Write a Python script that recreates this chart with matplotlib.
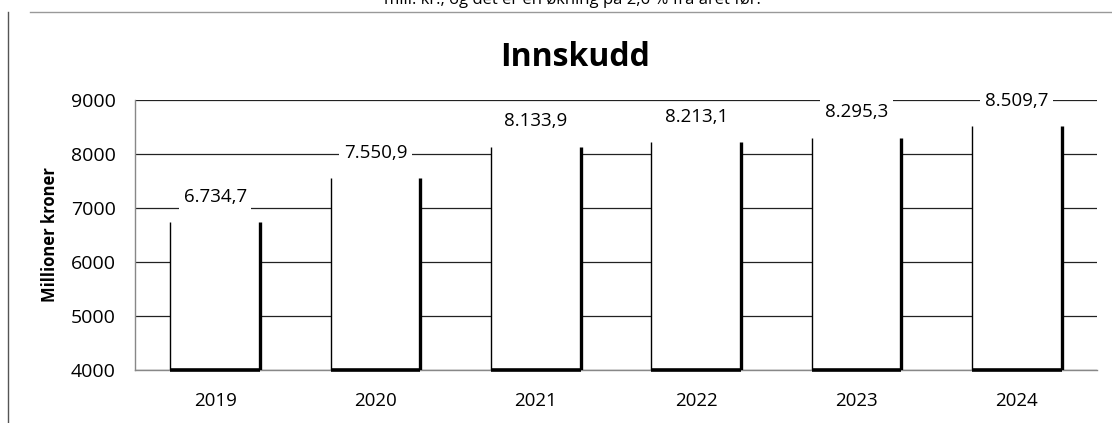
"""
Stolpediagram over innskudd 2019-2024 (millioner kroner), lagret som out.png.
"""

import matplotlib
matplotlib.use("Agg")
import matplotlib.pyplot as plt
from matplotlib.lines import Line2D

# Data
years = ["2019", "2020", "2021", "2022", "2023", "2024"]
deposits = [6734.7, 7550.9, 8133.9, 8213.1, 8295.3, 8509.7]
value_labels = ["6.734,7", "7.550,9", "8.133,9", "8.213,1", "8.295,3", "8.509,7"]
y_ticks = [4000, 5000, 6000, 7000, 8000, 9000]

plt.rcParams["font.family"] = ["Open Sans", "DejaVu Sans"]

fig = plt.figure(figsize=(11.12, 4.23), dpi=100)
ax = fig.add_axes([0.1214, 0.1253, 0.8651, 0.6383])

x = range(len(years))
bars = ax.bar(x, deposits, width=0.56, color="white", edgecolor="none", zorder=2)

ax.set_ylim(y_ticks[0], y_ticks[-1])
ax.set_xlim(-0.5, len(years) - 0.5)
ymin = ax.get_ylim()[0]

# Stolpekanter som i originalen: tynn venstre, tykk høyre og bunn, ingen topp
for bar in bars:
    left = bar.get_x()
    right = left + bar.get_width()
    top = bar.get_height()
    ax.vlines(left, ymin, top, colors="black", linewidth=1.0, zorder=3)
    ax.vlines(right, ymin, top, colors="black", linewidth=2.4, zorder=3)
    ax.hlines(ymin, left, right, colors="black", linewidth=2.6, zorder=3, clip_on=False)

for xi, val, lab in zip(x, deposits, value_labels):
    ax.annotate(lab, (xi, val), xytext=(0, 12), textcoords="offset points",
                ha="center", va="bottom", fontsize=13.5, zorder=4,
                bbox=dict(boxstyle="square,pad=0.25", fc="white", ec="none"))

ax.set_yticks(y_ticks)
ax.set_yticklabels([str(t) for t in y_ticks], fontsize=14)
ax.set_xticks(list(x))
ax.set_xticklabels(years, fontsize=13.5)
ax.tick_params(axis="both", length=0)
ax.tick_params(axis="x", pad=16)
ax.tick_params(axis="y", pad=14)

ax.grid(axis="y", color="#222222", linewidth=0.9, zorder=1)
ax.set_axisbelow(True)

for side in ("top", "right"):
    ax.spines[side].set_visible(False)
ax.spines["left"].set_color("#888888")
ax.spines["bottom"].set_color("#888888")
ax.spines["left"].set_linewidth(1.0)
ax.spines["bottom"].set_linewidth(1.0)

ax.set_ylabel("Millioner kroner", fontsize=12, fontweight="bold", labelpad=8)
fig.text(0.517, 0.865, "Innskudd", ha="center", va="center",
         fontsize=23, fontweight="bold")

# Ramme rundt diagrammet og avkuttet tekstlinje fra skannet side
fig.add_artist(Line2D([0.027, 1.0], [0.972, 0.972], color="#999999", linewidth=1.0))
fig.add_artist(Line2D([0.0072, 0.0072], [0.0, 0.972], color="#555555", linewidth=1.0))
fig.text(0.345, 1.002, "mill. kr., og det er en økning på 2,6 % fra året før.",
         ha="left", va="center", fontsize=12)

fig.savefig("out.png", dpi=100)
plt.close(fig)
